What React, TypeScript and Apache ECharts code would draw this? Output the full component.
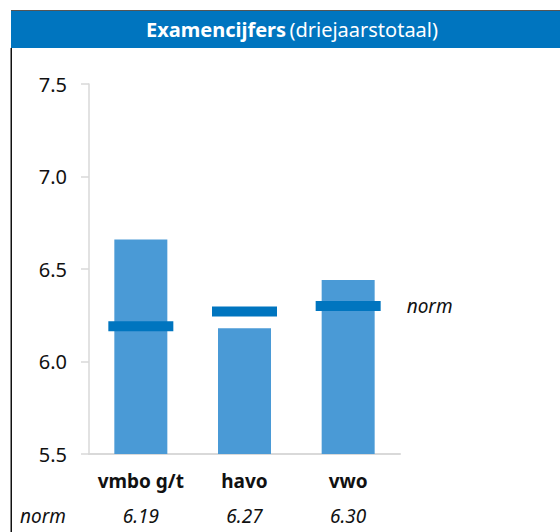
import React, { useEffect, useRef } from "react";
import * as echarts from "echarts";

const categories = ["vmbo g/t", "havo", "vwo"];
const scores = [6.66, 6.18, 6.44];
const norms = [6.19, 6.27, 6.3];
const normLabels = ["6.19", "6.27", "6.30"];
const yTicks = { min: 5.5, max: 7.5, interval: 0.5 };

const FONT = "'Noto Sans', sans-serif";

export default function App() {
  const ref = useRef<HTMLDivElement>(null);
  useEffect(() => {
    if (!ref.current) return;
    const chart = echarts.init(ref.current, undefined, { renderer: "svg" });
    chart.setOption({
      animation: false,
      backgroundColor: "#ffffff",
      textStyle: { fontFamily: FONT },
      grid: { left: 89, width: 311, top: 84, bottom: 78 },
      xAxis: {
        type: "category",
        data: categories,
        axisLine: { lineStyle: { color: "#d9d9d9", width: 2 } },
        axisTick: { show: false },
        axisLabel: {
          margin: 9,
          interval: 0,
          formatter: (v: string, i: number) => `{c|${v}}\n{n|${normLabels[i]}}`,
          rich: {
            c: { fontFamily: FONT, fontWeight: "bold", fontSize: 19, color: "#111", lineHeight: 35 },
            n: { fontFamily: FONT, fontStyle: "italic", fontSize: 19, color: "#111", lineHeight: 35 },
          },
        },
      },
      yAxis: {
        type: "value",
        min: yTicks.min,
        max: yTicks.max,
        interval: yTicks.interval,
        splitLine: { show: false },
        axisLine: { show: true, lineStyle: { color: "#d9d9d9", width: 1.5 } },
        axisTick: { show: true, length: 8, lineStyle: { color: "#d9d9d9", width: 1.5 } },
        axisLabel: {
          margin: 22,
          fontSize: 20,
          color: "#111",
          fontFamily: FONT,
          formatter: (v: number) => v.toFixed(1),
        },
      },
      series: [
        {
          type: "bar",
          data: scores,
          barWidth: 53,
          itemStyle: { color: "#4a9ad6" },
          z: 2,
        },
        {
          type: "scatter",
          data: norms.map((v, i) =>
            i === norms.length - 1
              ? {
                  value: v,
                  label: {
                    show: true,
                    position: "right",
                    distance: 26,
                    formatter: "norm",
                    fontStyle: "italic",
                    fontSize: 19,
                    color: "#111",
                    fontFamily: FONT,
                  },
                }
              : v
          ),
          symbol: "rect",
          symbolSize: [65, 10],
          itemStyle: { color: "#0075bf", opacity: 1 },
          z: 3,
        },
      ],
      graphic: [
        { type: "rect", shape: { x: 11, y: 10, width: 549, height: 1 }, style: { fill: "#555" } },
        { type: "rect", shape: { x: 11, y: 11, width: 549, height: 37 }, style: { fill: "#0075bf" } },
        { type: "rect", shape: { x: 10.5, y: 48, width: 1.5, height: 484 }, style: { fill: "#111" } },
        {
          type: "text",
          x: 292,
          y: 29,
          style: {
            text: "{b|Examencijfers} {r|(driejaarstotaal)}",
            align: "center",
            verticalAlign: "middle",
            rich: {
              b: { fontFamily: FONT, fontWeight: "bold", fontSize: 20, fill: "#fff" },
              r: { fontFamily: FONT, fontSize: 20, fill: "#fff" },
            },
          },
        },
        {
          type: "text",
          x: 20,
          y: 516,
          style: {
            text: "norm",
            fontFamily: FONT,
            fontStyle: "italic",
            fontSize: 19,
            fill: "#111",
            verticalAlign: "middle",
          },
        },
      ],
    });
    return () => chart.dispose();
  }, []);
  return (
    <div
      ref={ref}
      style={{ position: "fixed", left: 0, top: 0, width: 560, height: 532 }}
    />
  );
}
